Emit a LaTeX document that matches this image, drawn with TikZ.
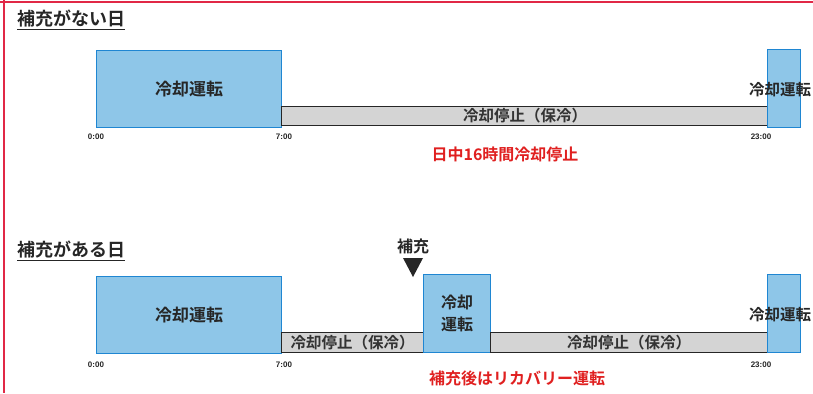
\documentclass[tikz,border=0pt]{standalone}
\usepackage{fontspec}
\setmainfont{Liberation Sans}
\newfontfamily\jp{Noto Sans CJK JP}
\newfontfamily\jpb{Noto Sans CJK JP Bold}
\definecolor{runfill}{HTML}{8EC6E8}
\definecolor{rundraw}{HTML}{1F86D2}
\definecolor{stopfill}{HTML}{D4D4D4}
\definecolor{borderred}{RGB}{225,40,70}
\definecolor{notered}{HTML}{E02020}
\begin{document}
\begin{tikzpicture}[x=1bp,y=-1bp,
  run/.style={draw=rundraw, line width=1.2bp, fill=runfill, anchor=north west, inner sep=0pt,
     font=\jpb\fontsize{17bp}{20bp}\selectfont, text=black!85, align=center},
  stop/.style={draw=black!85, line width=1bp, fill=stopfill, anchor=north west, inner sep=0pt,
     font=\jpb\fontsize{15.5bp}{18bp}\selectfont, text=black!80},
  title/.style={font=\jpb\fontsize{18bp}{21bp}\selectfont, text=black!85, anchor=west, inner sep=0pt},
  tlabel/.style={font=\bfseries\fontsize{8bp}{9bp}\selectfont, text=black!85, inner sep=0pt},
  rlabel/.style={font=\jpb\fontsize{16bp}{19bp}\selectfont, text=notered, inner sep=0pt},
  side/.style={font=\jpb\fontsize{15.5bp}{19bp}\selectfont, text=black!85, anchor=west, inner sep=0pt}]
\useasboundingbox (0,0) rectangle (813,393);
\fill[white] (0,0) rectangle (813,393);
% frame
\draw[draw=borderred, line width=2bp] (0,1.5) -- (813,1.5);
\draw[draw=borderred, line width=2bp] (3.5,0) -- (3.5,393);

% ===== top section =====
\node[title] (t1) at (17,19) {補充がない日};
\draw[line width=0.8bp, black!85] ([yshift=-2bp]t1.south west) -- ([yshift=-2bp]t1.south east);

\node[run, minimum width=185bp, minimum height=77bp] (a1) at (96,50) {冷却運転};
\node[stop, minimum width=487bp, minimum height=19bp] (a2) at (281,106) {冷却停止（保冷）};
\node[run, minimum width=33bp, minimum height=78bp] (a3) at (767,49) {};
\node[side] (a3t) at (749,90) {冷却運転};

\node[tlabel] (a0t) at (96,137) {0:00};
\node[tlabel] (a7t) at (284,137) {7:00};
\node[tlabel] (a23t) at (761,137) {23:00};
\node[rlabel] (n1) at (505,154) {日中16時間冷却停止};

% ===== bottom section =====
\node[title] (t2) at (17,250) {補充がある日};
\draw[line width=0.8bp, black!85] ([yshift=-2bp]t2.south west) -- ([yshift=-2bp]t2.south east);

\node[font=\jpb\fontsize{16bp}{19bp}\selectfont, text=black!85, inner sep=0pt] (h) at (413,246) {補充};
\fill[black!85] (403,258) -- (423,258) -- (413,277) -- cycle;

\node[run, minimum width=185bp, minimum height=77bp] (b1) at (96,276) {冷却運転};
\node[stop, minimum width=142bp, minimum height=20bp] (b2) at (281,332) {冷却停止（保冷）};
\node[run, minimum width=67bp, minimum height=78bp, font=\jpb\fontsize{16bp}{22bp}\selectfont] (b3) at (423,274) {冷却\\運転};
\node[stop, minimum width=277bp, minimum height=20bp] (b4) at (490,332) {冷却停止（保冷）};
\node[run, minimum width=33bp, minimum height=78bp] (b5) at (767,274) {};
\node[side] (b5t) at (749,315) {冷却運転};

\node[tlabel] (b0t) at (96,365) {0:00};
\node[tlabel] (b7t) at (284,365) {7:00};
\node[tlabel] (b23t) at (761,365) {23:00};
\node[rlabel] (n2) at (517,378) {補充後はリカバリー運転};
\end{tikzpicture}
\end{document}
